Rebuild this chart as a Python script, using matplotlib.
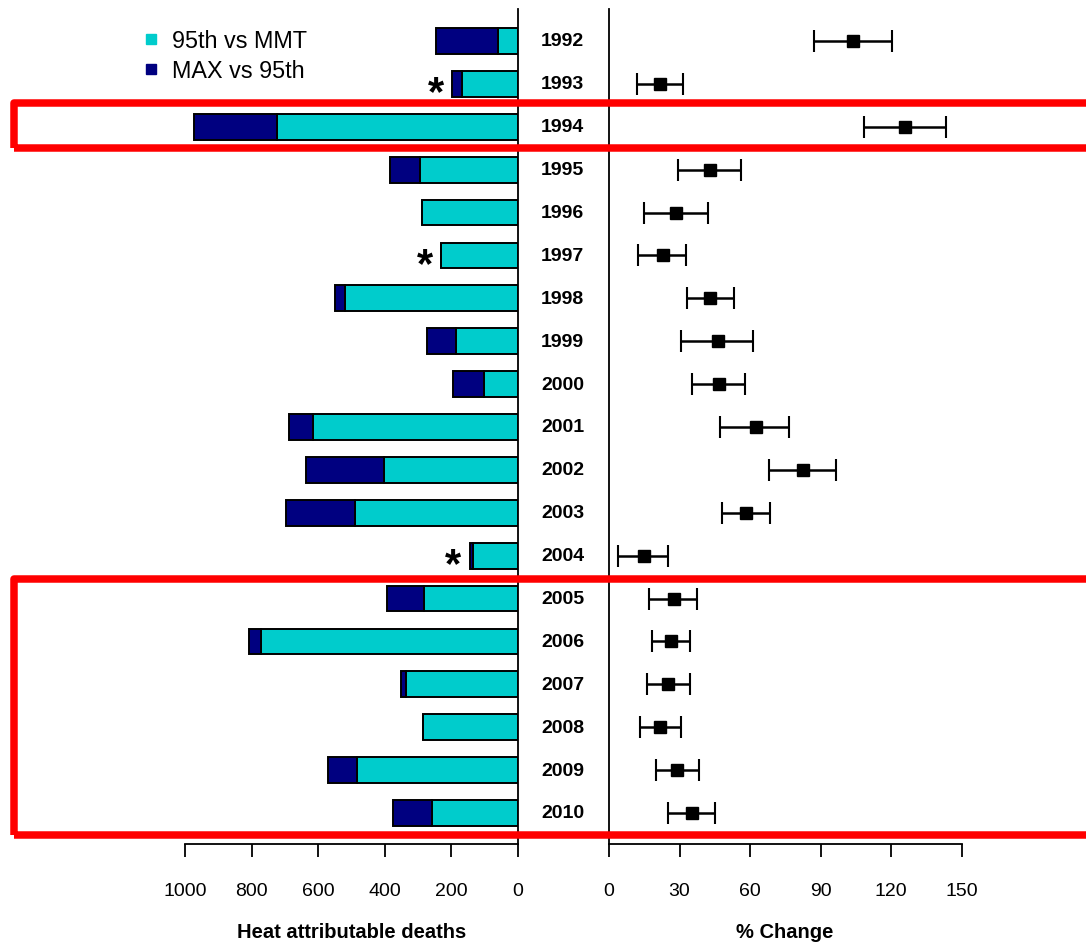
import matplotlib
matplotlib.use("Agg")
import matplotlib.pyplot as plt
import matplotlib.patches as mpatches
import matplotlib.transforms as mtransforms
from matplotlib.lines import Line2D
import numpy as np

plt.rcParams['font.family'] = ['Liberation Sans', 'DejaVu Sans']

years = [1992, 1993, 1994, 1995, 1996, 1997, 1998, 1999, 2000, 2001,
         2002, 2003, 2004, 2005, 2006, 2007, 2008, 2009, 2010]
# Heat attributable deaths: 95th percentile vs MMT
deaths_95_vs_mmt = [59, 168, 724, 295, 288, 230, 521, 187, 103, 617,
                    403, 489, 135, 283, 772, 336, 284, 482, 258]
# Heat attributable deaths: MAX vs 95th percentile
deaths_max_vs_95 = [187, 30, 248, 88, 0, 0, 29, 85, 91, 70,
                    234, 207, 10, 110, 35, 16, 0, 89, 118]
# % change with confidence interval
pct_change = [104.0, 21.9, 126.1, 43.1, 28.6, 22.9, 43.1, 46.2, 46.8, 62.5,
              82.5, 58.3, 14.7, 27.5, 26.3, 25.3, 21.9, 29.0, 35.4]
pct_low = [87.2, 12.1, 108.6, 29.5, 14.8, 12.4, 33.1, 30.5, 35.5, 47.4,
           68.2, 48.1, 4.0, 17.2, 18.2, 16.1, 13.3, 19.9, 24.9]
pct_high = [120.6, 31.5, 143.3, 56.2, 42.1, 32.9, 53.3, 61.4, 57.9, 76.8,
            96.7, 68.3, 25.2, 37.5, 34.3, 34.6, 30.5, 38.2, 45.3]
starred_years = [1993, 1997, 2004]

left_ticks = [1000, 800, 600, 400, 200, 0]
right_ticks = [0, 30, 60, 90, 120, 150]

CYAN = "#00CCCC"
NAVY = "#000080"

W, H = 1086, 945
fig = plt.figure(figsize=(W / 100, H / 100), dpi=100)

def fx(px):
    return px / W

def fy(py):
    return 1 - py / H

top_px, bot_px = 10, 845
row0_px, rowN_px = 42, 814
n = len(years)
row_h = (rowN_px - row0_px) / (n - 1)
ylim = ((n - 1) + (bot_px - rowN_px) / row_h, -(row0_px - top_px) / row_h)

# Left axes: 1000 at x=185, 0 at x=518
axL = fig.add_axes([fx(185), fy(bot_px), fx(518 - 185), (bot_px - top_px) / H])
# Right axes: 0 at x=609, 150 at x=961.5
r0, r150 = 609, 961.5
r_scale = (r150 - r0) / 150
axR = fig.add_axes([fx(r0), fy(bot_px), fx(W - r0), (bot_px - top_px) / H])

y = np.arange(n)
cyan = np.array(deaths_95_vs_mmt)
navy = np.array(deaths_max_vs_95)
axL.barh(y, cyan, height=0.6, color=CYAN, edgecolor="black", linewidth=1.4, zorder=3)
axL.barh(y, navy, left=cyan, height=0.6, color=NAVY, edgecolor="black", linewidth=1.4, zorder=3)
axL.set_xlim(1000, 0)
axL.set_ylim(*ylim)
axL.set_yticks([])
axL.set_xticks(left_ticks)
axL.set_xticklabels([str(t) for t in left_ticks], fontsize=14)
for s in ["top", "left"]:
    axL.spines[s].set_visible(False)
axL.spines["bottom"].set_bounds(1000, 0)
axL.spines["right"].set_linewidth(1.3)
axL.spines["bottom"].set_linewidth(1.3)
axL.tick_params(axis="x", length=9.5, width=1.3, pad=18, direction="out")
axL.patch.set_visible(False)

totals = cyan + navy
for yr in starred_years:
    i = years.index(yr)
    axL.text(totals[i] + 25, i + 0.22, "*", fontsize=30, fontweight="bold",
             ha="right", va="center", zorder=4)

# Right error bars
pc = np.array(pct_change)
lo = pc - np.array(pct_low)
hi = np.array(pct_high) - pc
axR.errorbar(pc, y, xerr=[lo, hi], fmt="s", color="black", ms=8.5,
             elinewidth=1.8, capsize=8, capthick=1.5, zorder=3)
axR.set_xlim(0, (W - r0) / r_scale)
axR.set_ylim(*ylim)
axR.set_yticks([])
axR.set_xticks(right_ticks)
axR.set_xticklabels([str(t) for t in right_ticks], fontsize=14)
for s in ["top", "right"]:
    axR.spines[s].set_visible(False)
axR.spines["bottom"].set_bounds(0, 150)
axR.spines["left"].set_linewidth(1.3)
axR.spines["bottom"].set_linewidth(1.3)
axR.tick_params(axis="x", length=9.5, width=1.3, pad=18, direction="out")
axR.patch.set_visible(False)

# Year labels
trans = mtransforms.blended_transform_factory(fig.transFigure, axL.transData)
for i, yr in enumerate(years):
    fig.text(fx(562.5), i, str(yr), transform=trans, fontsize=14, fontweight="bold",
             ha="center", va="center")

# Axis titles
fig.text(fx(351.5), fy(933), "Heat attributable deaths", fontsize=14.5,
         fontweight="bold", ha="center", va="center")
fig.text(fx(785), fy(933), "% Change", fontsize=14.5,
         fontweight="bold", ha="center", va="center")

# Legend
handles = [Line2D([], [], marker="s", linestyle="none", color=CYAN, markersize=7.5),
           Line2D([], [], marker="s", linestyle="none", color=NAVY, markersize=7.5)]
fig.legend(handles, ["95th vs MMT", "MAX vs 95th"], loc="upper left",
           bbox_to_anchor=(fx(142), fy(30)), frameon=False, fontsize=16.8,
           handlelength=0.8, handletextpad=0.5, labelspacing=0.3,
           borderaxespad=0, borderpad=0)

# Red highlight boxes
lw_pt = 7.5 * 72 / 100
for top, bot in [(103.5, 148.5), (579.5, 835.5)]:
    rect = mpatches.Rectangle((fx(13.5), fy(bot)), fx(1120 - 13.5), (bot - top) / H,
                              transform=fig.transFigure, fill=False, edgecolor="#FF0000",
                              linewidth=lw_pt, joinstyle="round", zorder=10)
    fig.patches.append(rect)

fig.savefig("out.png", dpi=100)
